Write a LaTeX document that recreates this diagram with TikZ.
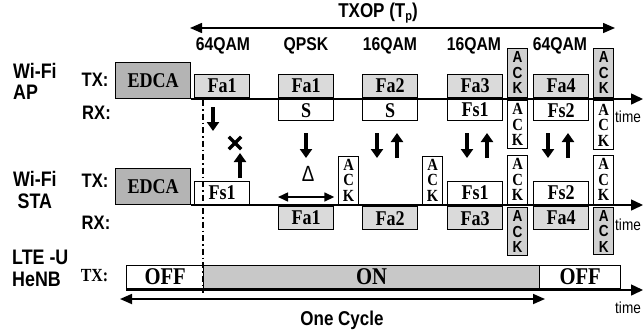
\documentclass[tikz,border=0pt]{standalone}
\usepackage{fontspec}
\setmainfont[FakeStretch=0.86]{Liberation Serif}
\setsansfont[FakeStretch=0.85]{Liberation Sans}
\usetikzlibrary{arrows.meta}
\definecolor{edcagray}{HTML}{B4B4B4}
\definecolor{fagray}{HTML}{DADADA}
\definecolor{ongray}{HTML}{C8C8C8}
\definecolor{ackgray}{HTML}{D0D0D0}
\begin{document}
\begin{tikzpicture}[x=1pt,y=-1pt,
  grp/.style={font=\sffamily\bfseries\fontsize{21}{21.5}\selectfont, inner sep=0pt, anchor=west},
  txrx/.style={font=\sffamily\bfseries\fontsize{19.5}{21}\selectfont, inner sep=0pt},
  modl/.style={font=\sffamily\bfseries\fontsize{18.5}{20}\selectfont, inner sep=0pt},
  pkt/.style={draw, line width=1.3pt, inner sep=0pt, font=\bfseries\fontsize{21}{22}\selectfont},
  fa/.style={pkt, fill=fagray, minimum width=55pt, minimum height=23pt},
  fs/.style={pkt, fill=white, minimum width=55pt, minimum height=23pt},
  rxw/.style={pkt, fill=white, minimum width=55pt, minimum height=21pt},
  edca/.style={pkt, fill=edcagray, minimum width=75pt, minimum height=36pt},
  ackg/.style={draw, line width=1.3pt, fill=ackgray, inner sep=0pt, minimum width=20pt, minimum height=48pt, align=center,
     font=\sffamily\bfseries\fontsize{16}{15.5}\selectfont},
  ackw/.style={draw, line width=1.3pt, fill=white, inner sep=0pt, minimum width=20pt, minimum height=48pt, align=center,
     font=\bfseries\fontsize{17}{15.5}\selectfont},
  lte/.style={pkt, minimum height=23pt, font=\bfseries\fontsize{24}{24}\selectfont},
  axis/.style={line width=1.5pt, -{Triangle[length=12pt,width=11pt]}},
  bigarr/.style={line width=3.3pt, -{Triangle[length=9pt,width=12pt]}},
  dbl/.style={line width=1.5pt, {Triangle[length=12pt,width=10pt]}-{Triangle[length=12pt,width=10pt]}},
  timel/.style={font=\sffamily\fontsize{16}{18}\selectfont, inner sep=0pt, anchor=base west}
]
\useasboundingbox (0,0) rectangle (644,333);

% ---------- top: TXOP ----------
\node[font=\sffamily\bfseries\fontsize{20}{21}\selectfont, inner sep=0pt] (txop) at (378,13)
  {TXOP (T\raisebox{-0.35ex}{\fontsize{13}{13}\selectfont p})};
\coordinate (txopL) at (190,28);
\coordinate (txopR) at (615,28);
\draw[dbl] (txopL) -- (txopR);

\node[modl] (m1) at (223,46) {64QAM};
\node[modl] (m2) at (306,46) {QPSK};
\node[modl] (m3) at (390,46) {16QAM};
\node[modl] (m4) at (474,46) {16QAM};
\node[modl] (m5) at (560,46) {64QAM};

% ---------- left labels ----------
\node[grp, align=left] (gap) at (13,81.5) {Wi-Fi\\AP};
\node[grp, align=center] (gsta) at (13,190) {Wi-Fi\\STA};
\node[grp, align=left] (glte) at (12,268.5) {LTE -U\\HeNB};
\node[txrx] (aptx) at (95,80) {TX:};
\node[txrx] (aprx) at (96.5,113) {RX:};
\node[txrx] (statx) at (95,181) {TX:};
\node[txrx] (starx) at (96,222.5) {RX:};
\node[font=\bfseries\fontsize{18.5}{19}\selectfont, inner sep=0pt] (ltetx) at (94.5,276) {TX:};

% ---------- Wi-Fi AP ----------
\node[edca, anchor=south west] (edcaAP) at (115,99) {EDCA};
\coordinate (apEnd) at (643,99);
\draw[axis] (edcaAP.south east) -- (apEnd);
\node[timel] (aptime) at (615,122) {time};

\node[fa, anchor=south west] (apfa1a) at (194,98) {Fa1};
\node[fa, anchor=south west] (apfa1b) at (278,98) {Fa1};
\node[rxw, anchor=north west] (apS1) at (278,99) {S};
\node[fa, anchor=south west] (apfa2) at (362,98) {Fa2};
\node[rxw, anchor=north west] (apS2) at (362,99) {S};
\node[fa, anchor=south west] (apfa3) at (447,98) {Fa3};
\node[rxw, anchor=north west] (apfs1) at (447,99) {Fs1};
\node[ackg, anchor=south west, minimum height=49pt] (apack1) at (507,98) {A\\C\\K};
\node[ackw, anchor=north west] (apack1r) at (507,100) {A\\C\\K};
\node[fa, anchor=south west] (apfa4) at (533,98) {Fa4};
\node[rxw, anchor=north west] (apfs2) at (533,99) {Fs2};
\node[ackg, anchor=south west, minimum height=49pt] (apack2) at (593,98) {A\\C\\K};
\node[ackw, anchor=north west, minimum height=49pt] (apack2r) at (593,100) {A\\C\\K};

% ---------- Wi-Fi STA ----------
\node[edca, anchor=south west] (edcaSTA) at (115,205) {EDCA};
\coordinate (staEnd) at (643,205);
\draw[axis] (edcaSTA.south east) -- (staEnd);
\node[timel] (statime) at (615,230) {time};

\node[fs, anchor=south west] (stafs1a) at (194,205) {Fs1};
\node[fa, anchor=north west] (stafa1) at (278,206) {Fa1};
\node[ackw, anchor=south west] (staack1) at (338,205) {A\\C\\K};
\node[fa, anchor=north west] (stafa2) at (362,206) {Fa2};
\node[ackw, anchor=south west] (staack2) at (422,205) {A\\C\\K};
\node[fs, anchor=south west] (stafs1b) at (447,205) {Fs1};
\node[fa, anchor=north west] (stafa3) at (447,206) {Fa3};
\node[ackw, anchor=south west, minimum height=49pt] (staack3) at (507,205) {A\\C\\K};
\node[ackg, anchor=north west] (staack3r) at (507,207) {A\\C\\K};
\node[fs, anchor=south west] (stafs2) at (533,205) {Fs2};
\node[fa, anchor=north west] (stafa4) at (533,206) {Fa4};
\node[ackw, anchor=south west, minimum height=49pt] (staack4) at (593,205) {A\\C\\K};
\node[ackg, anchor=north west, minimum height=47pt] (staack4r) at (593,207) {A\\C\\K};

% Delta
\draw[line width=1.5pt, {Triangle[length=10pt,width=9pt]}-{Triangle[length=10pt,width=9pt]}]
  ([yshift=9pt]stafa1.north west) -- ([yshift=9pt]stafa1.north east);
\node[font=\sffamily\fontsize{22}{22}\selectfont, inner sep=0pt] (delta) at (308,174) {Δ};

% ---------- vertical arrows ----------
\coordinate (d1a) at (213,107); \coordinate (d1b) at (213,131);
\draw[bigarr] (d1a) -- (d1b);
\coordinate (u1a) at (240,178); \coordinate (u1b) at (240,153);
\draw[bigarr] (u1a) -- (u1b);
\node[inner sep=0pt, minimum size=12pt] (xmark) at (235,143) {};
\draw[line width=3.3pt] (xmark.north west) -- (xmark.south east);
\draw[line width=3.3pt] (xmark.north east) -- (xmark.south west);

\coordinate (d2a) at (306,133); \coordinate (d2b) at (306,158);
\draw[bigarr] (d2a) -- (d2b);

\coordinate (d3a) at (377,133); \coordinate (d3b) at (377,158);
\draw[bigarr] (d3a) -- (d3b);
\coordinate (u3a) at (397,158); \coordinate (u3b) at (397,133);
\draw[bigarr] (u3a) -- (u3b);

\coordinate (d4a) at (467,133); \coordinate (d4b) at (467,158);
\draw[bigarr] (d4a) -- (d4b);
\coordinate (u4a) at (487,158); \coordinate (u4b) at (487,133);
\draw[bigarr] (u4a) -- (u4b);

\coordinate (d5a) at (548,133); \coordinate (d5b) at (548,158);
\draw[bigarr] (d5a) -- (d5b);
\coordinate (u5a) at (568,158); \coordinate (u5b) at (568,133);
\draw[bigarr] (u5a) -- (u5b);

% ---------- LTE-U ----------
\node[lte, fill=white, minimum width=77pt, anchor=south west] (off1) at (126,289) {OFF};
\node[lte, fill=ongray, minimum width=336pt, anchor=south west] (on) at (203,289) {ON};
\node[lte, fill=white, minimum width=81pt, anchor=south west] (off2) at (539,289) {OFF};
\coordinate (lteEnd) at (643,290);
\draw[axis] ([yshift=-1pt]off1.south west) -- (lteEnd);
\node[timel] (ltetime) at (615,313) {time};

\coordinate (cycL) at (120,299);
\coordinate (cycR) at (545,299);
\draw[line width=1.7pt, {Triangle[length=12pt,width=10pt]}-{Triangle[length=12pt,width=10pt]}] (cycL) -- (cycR);
\node[font=\sffamily\bfseries\fontsize{20}{21}\selectfont, inner sep=0pt] (cyc) at (342,320) {One Cycle};

% ---------- dash-dot line ----------
\coordinate (ddTop) at (203,100);
\coordinate (ddBot) at (203,293);
\draw[line width=1.1pt, dash pattern=on 6pt off 3pt on 1.5pt off 3pt] (ddTop) -- (ddBot);
\end{tikzpicture}
\end{document}
